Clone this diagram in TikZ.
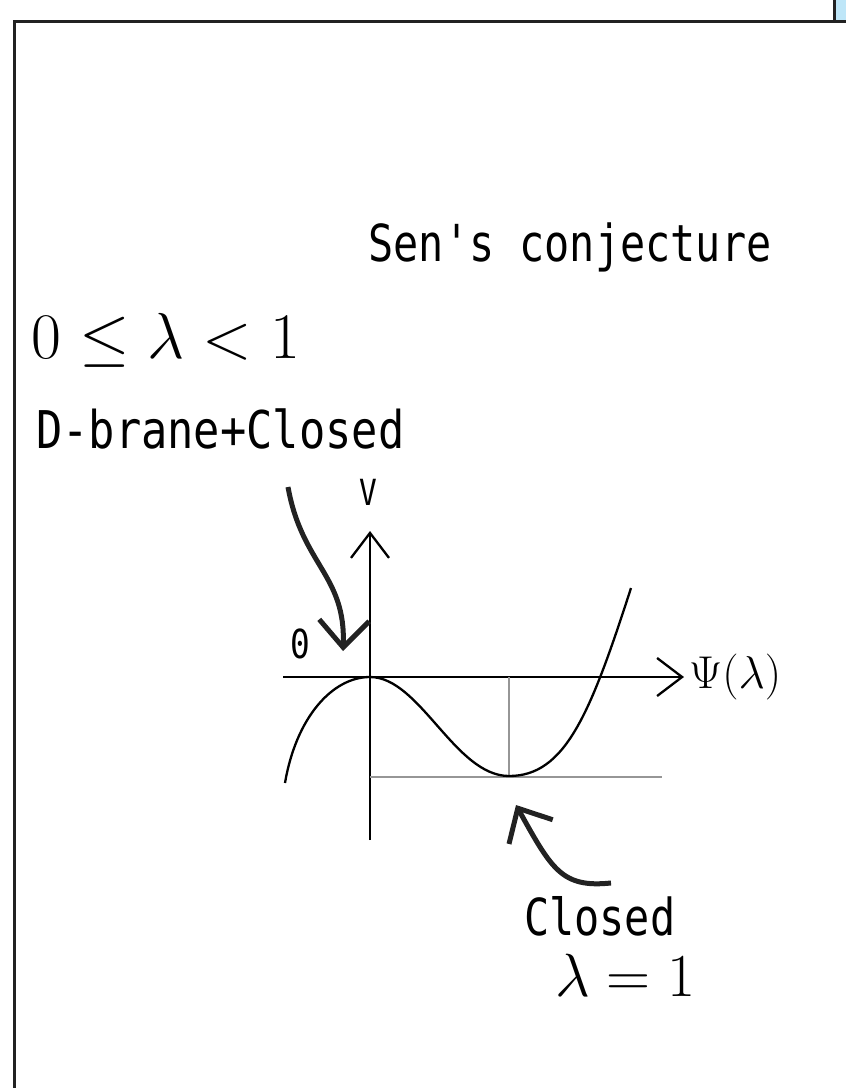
\RequirePackage{fix-cm}
\documentclass[tikz,border=0pt]{standalone}
\usepackage{amsmath,amssymb}
\usepackage{fontspec}
\setmonofont[FakeStretch=0.82]{DejaVu Sans Mono}
\usepackage{xcolor}
\usetikzlibrary{arrows.meta, positioning, calc}
\definecolor{framedark}{RGB}{34, 34, 34}
\definecolor{tabblue}{RGB}{190, 230, 248}
\definecolor{guidegray}{RGB}{150, 150, 150}

\begin{document}
\begin{tikzpicture}[
    x=1pt, y=-1pt,
    label/.style={
        inner sep=0pt,
        font=\ttfamily\fontsize{51}{54}\selectfont
    },
    mathlabel/.style={
        inner sep=0pt,
        font=\fontsize{60}{64}\selectfont
    },
    axis/.style={
        -{Straight Barb[length=25pt, width=38pt]},
        line width=2.3pt,
        draw=black
    },
    curve/.style={
        line width=2.3pt,
        draw=black
    },
    guide/.style={
        line width=1.5pt,
        draw=guidegray
    },
    handarrow/.style={
        -{Straight Barb[length=27pt, width=50pt]},
        line width=5pt,
        draw=framedark
    }
]
    \useasboundingbox (0,0) rectangle (846,1088);

    % Frame and tab
    \fill[tabblue] (835,0) rectangle (846,20);
    \draw[line width=3pt, draw=framedark] (14,1088) -- (14,21) -- (846,21);
    \draw[line width=3pt, draw=framedark] (834,0) -- (834,21);

    % Texts
    \node[label, anchor=base] (title) at (570,261) {Sen's conjecture};
    \node[mathlabel, anchor=base west, font=\fontsize{65}{68}\selectfont] (range) at (31,358) {$0\leq\lambda<1$};
    \node[label, anchor=base west, font=\ttfamily\fontsize{52}{55}\selectfont\addfontfeature{FakeStretch=0.84}] (dbrane) at (36,448) {D-brane+Closed};
    \node[label, anchor=base, font=\ttfamily\fontsize{36}{38}\selectfont] (vlabel) at (368,505) {V};
    \node[label, anchor=base, font=\ttfamily\fontsize{40}{42}\selectfont] (zero) at (300,658) {0};
    \node[mathlabel, anchor=west, font=\fontsize{46}{50}\selectfont] (psi) at (689,677) {$\Psi(\lambda)$};
    \node[label, anchor=base west] (closed) at (524,935) {Closed};
    \node[mathlabel, anchor=base west, font=\fontsize{61}{64}\selectfont] (lamone) at (555,996) {$\lambda=1$};

    % Axes
    \coordinate (origin) at (370,677);
    \coordinate (vtop) at (370,531);
    \coordinate (vbot) at (370,840);
    \coordinate (hleft) at (283,677);
    \coordinate (hright) at (684,677);
    \draw[axis] (vbot) -- (vtop);
    \draw[axis] (hleft) -- (hright);

    % Potential
    \coordinate (lstart) at (285,783);
    \coordinate (minpt) at (509,776);
    \coordinate (rend) at (631,588);
    \coordinate (gend) at (662,777);
    \draw[guide] (minpt |- origin) -- (minpt);
    \draw[guide] (origin |- gend) -- (gend);
    \draw[curve] (lstart) .. controls (296,718) and (332,677) .. (origin)
        .. controls (420,677) and (455,776) .. (minpt)
        .. controls (565,776) and (590,715) .. (rend);

    % Hand arrows
    \coordinate (dtail) at (288,487);
    \coordinate (dtip) at (343,651);
    \draw[handarrow] (dtail) .. controls (302,565) and (346,575) .. (dtip);
    \coordinate (ctail) at (611,883);
    \coordinate (ctip) at (516,805);
    \draw[handarrow] (ctail) .. controls (562,888) and (552,870) .. (ctip);

\end{tikzpicture}
\end{document}
